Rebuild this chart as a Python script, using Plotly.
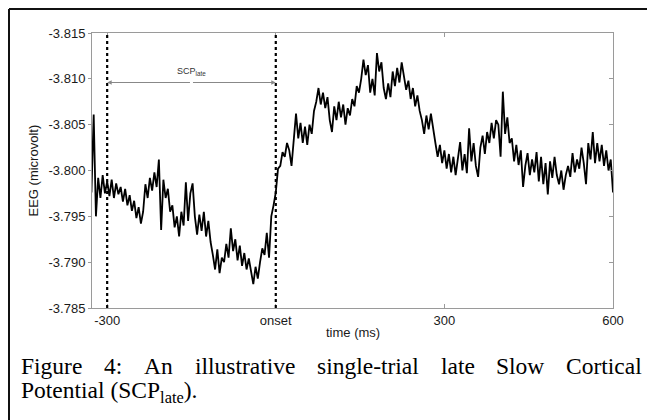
import plotly.graph_objects as go

# ---------------- data ----------------
time_ms = list(range(-328, 601, 4))  # sampling grid, ms relative to onset
eeg_uv = [
    -3.7976, -3.8061, -3.7950, -3.7992, -3.7970, -3.7995, -3.7975, -3.7988, -3.7972, -3.7990,
    -3.7970, -3.7986, -3.7974, -3.7982, -3.7966, -3.7980, -3.7962, -3.7973, -3.7956, -3.7967,
    -3.7948, -3.7960, -3.7942, -3.7955, -3.7985, -3.7970, -3.7992, -3.7978, -3.7998, -3.7982,
    -3.8012, -3.7935, -3.7990, -3.7970, -3.7980, -3.7955, -3.7962, -3.7938, -3.7950, -3.7928,
    -3.7955, -3.7940, -3.7987, -3.7945, -3.7975, -3.7986, -3.7950, -3.7930, -3.7952, -3.7934,
    -3.7955, -3.7928, -3.7945, -3.7922, -3.7908, -3.7892, -3.7914, -3.7888, -3.7905, -3.7900,
    -3.7920, -3.7905, -3.7937, -3.7912, -3.7925, -3.7902, -3.7918, -3.7896, -3.7910, -3.7892,
    -3.7904, -3.7890, -3.7876, -3.7895, -3.7882, -3.7900, -3.7915, -3.7908, -3.7932, -3.7905,
    -3.7950, -3.7962, -3.7976, -3.8002, -3.8005, -3.8020, -3.8015, -3.8030, -3.8022, -3.8005,
    -3.8035, -3.8062, -3.8035, -3.8052, -3.8030, -3.8048, -3.8028, -3.8050, -3.8040, -3.8065,
    -3.8075, -3.8090, -3.8072, -3.8085, -3.8068, -3.8080, -3.8055, -3.8042, -3.8070, -3.8055,
    -3.8075, -3.8058, -3.8072, -3.8050, -3.8068, -3.8060, -3.8078, -3.8070, -3.8092, -3.8085,
    -3.8100, -3.8121, -3.8104, -3.8115, -3.8085, -3.8100, -3.8082, -3.8128, -3.8108, -3.8118,
    -3.8090, -3.8078, -3.8095, -3.8080, -3.8108, -3.8092, -3.8112, -3.8096, -3.8118, -3.8100,
    -3.8088, -3.8098, -3.8078, -3.8090, -3.8070, -3.8082, -3.8065, -3.8055, -3.8040, -3.8060,
    -3.8045, -3.8062, -3.8048, -3.8030, -3.8015, -3.8028, -3.8008, -3.8022, -3.8002, -3.8018,
    -3.7998, -3.8015, -3.7995, -3.8012, -3.8031, -3.8000, -3.8018, -3.7997, -3.8046, -3.8010,
    -3.8030, -3.8005, -3.7993, -3.8025, -3.8038, -3.8018, -3.8042, -3.8030, -3.8052, -3.8035,
    -3.8055, -3.8050, -3.8015, -3.8086, -3.8040, -3.8058, -3.8030, -3.8035, -3.8010, -3.8028,
    -3.8006, -3.8022, -3.7982, -3.8005, -3.8019, -3.7995, -3.8012, -3.7998, -3.8020, -3.7988,
    -3.8015, -3.7985, -3.8008, -3.7974, -3.8010, -3.7992, -3.8015, -3.7995, -3.7985, -3.8000,
    -3.7979, -3.7995, -3.8005, -3.7993, -3.8019, -3.7998, -3.8012, -3.8002, -3.8025, -3.8008,
    -3.7985, -3.8030, -3.8012, -3.8042, -3.8008, -3.8030, -3.8010, -3.8028, -3.8005, -3.8022,
    -3.8000, -3.8012, -3.7976,
]
x_tick_vals = [-300, 0, 300, 600]
x_tick_text = ["-300", "onset", "300", "600"]
y_tick_vals = [-3.815, -3.810, -3.805, -3.800, -3.795, -3.790, -3.785]
y_tick_text = ["%.3f" % v for v in y_tick_vals]
marker_times = [-300, 0]          # dotted vertical markers
scp_window = (-300, 0)            # SCP_late window
scp_arrow_level = -3.8096
scp_label_level = -3.8108

caption_line1_words = ["Figure", "4:", "An", "illustrative", "single-trial",
                       "late", "Slow", "Cortical"]
caption_line2 = "Potential (SCP<sub>late</sub>)."

# ---------------- figure ----------------
# page has an 8px body margin; work in page pixels and convert
OFF = 8
W, H = 655 - OFF, 420 - OFF
ML, MR, MT, MB = 84, 42, 25, 112
PW, PH = W - ML - MR, H - MT - MB


def px(page_x):
    return (page_x - OFF - ML) / PW


def py(page_y):
    return (H - MB - (page_y - OFF)) / PH


fig = go.Figure()
fig.add_trace(go.Scatter(x=time_ms, y=eeg_uv, mode="lines",
                         line=dict(color="#000000", width=1.8),
                         hoverinfo="skip", showlegend=False))
fig.add_trace(go.Scatter(x=[], y=[], yaxis="y2", showlegend=False))

axis_col = "#9a9a9a"
tick_font = dict(family="Liberation Sans, Arial, sans-serif", size=13, color="#1a1a1a")

fig.update_layout(
    width=W, height=H,
    margin=dict(l=ML, r=MR, t=MT, b=MB),
    paper_bgcolor="white", plot_bgcolor="white",
    xaxis=dict(range=[-327, 600], tickvals=x_tick_vals, ticktext=x_tick_text,
               ticks="inside", ticklen=4, tickcolor=axis_col,
               showline=True, linecolor=axis_col, linewidth=1, mirror="ticks",
               showgrid=False, zeroline=False, tickfont=tick_font),
    yaxis=dict(range=[-3.785, -3.815], tickvals=y_tick_vals, ticktext=y_tick_text,
               ticks="outside", ticklen=3, tickcolor=axis_col,
               showline=True, linecolor=axis_col, linewidth=1, mirror=True,
               showgrid=False, zeroline=False, tickfont=tick_font),
    yaxis2=dict(range=[-3.785, -3.815], tickvals=y_tick_vals, overlaying="y",
                side="right", ticks="inside", ticklen=4, tickcolor=axis_col,
                showticklabels=False, showline=False, showgrid=False, zeroline=False),
)

# dotted markers
for t in marker_times:
    fig.add_shape(type="line", xref="x", yref="paper", x0=t, x1=t, y0=0, y1=1,
                  line=dict(color="#000000", width=2.2, dash="dot"))

# double-headed arrow for SCP_late window
mid = (scp_window[0] + scp_window[1]) / 2
for tip in scp_window:
    fig.add_annotation(x=tip, y=scp_arrow_level, ax=mid, ay=scp_arrow_level,
                       xref="x", yref="y", axref="x", ayref="y", text="",
                       showarrow=True, arrowhead=2, arrowsize=0.9, arrowwidth=1,
                       arrowcolor="#888888")
fig.add_annotation(x=mid, y=scp_label_level, xref="x", yref="y",
                   text="SCP<sub>late</sub>", showarrow=False,
                   font=dict(family="Liberation Sans, Arial, sans-serif", size=9, color="#333333"))

# axis titles
fig.add_annotation(x=0.5, y=py(332), xref="paper", yref="paper", text="time (ms)",
                   showarrow=False, xanchor="center", yanchor="middle", font=tick_font)
fig.add_annotation(x=px(33), y=0.5, xref="paper", yref="paper", text="EEG (microvolt)",
                   textangle=-90, showarrow=False, xanchor="center", yanchor="middle",
                   font=tick_font)

# outer frame (top and left edges visible)
frame = dict(color="#111111", width=2)
fig.add_shape(type="line", xref="paper", yref="paper", x0=px(OFF + 1), x1=px(670),
              y0=py(OFF + 1), y1=py(OFF + 1), line=frame)
fig.add_shape(type="line", xref="paper", yref="paper", x0=px(OFF + 1), x1=px(OFF + 1),
              y0=py(OFF + 1), y1=py(430), line=frame)

# caption: first line justified between x=20 and x=640 (Times advance widths, em)
cap_size = 23.5
em = {"Figure": 2.611, "4:": 0.778, "An": 1.222, "illustrative": 4.278,
      "single-trial": 4.333, "late": 1.444, "Slow": 2.056, "Cortical": 3.222}
left, right = 20, 641
total = sum(em[w] for w in caption_line1_words) * cap_size
gap = (right - left - total) / (len(caption_line1_words) - 1)
cap_font = dict(family="Liberation Serif, Times New Roman, serif", size=cap_size, color="#000000")
xpos = left
for w in caption_line1_words:
    fig.add_annotation(x=px(xpos), y=py(366), xref="paper", yref="paper", text=w,
                       showarrow=False, xanchor="left", yanchor="middle", font=cap_font,
                       borderpad=0)
    xpos += em[w] * cap_size + gap
fig.add_annotation(x=px(left), y=py(392), xref="paper", yref="paper", text=caption_line2,
                   showarrow=False, xanchor="left", yanchor="middle", font=cap_font,
                   borderpad=0)

fig.write_html("out.html")
